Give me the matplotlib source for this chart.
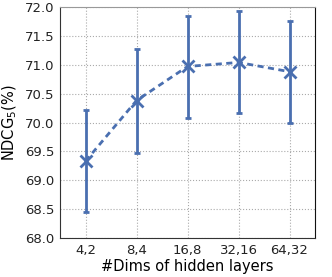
import matplotlib
matplotlib.use('Agg')
from matplotlib import pyplot as plt
import numpy as np

dims = ['4,2', '8,4', '16,8', '32,16', '64,32']
ndcg = [69.33, 70.38, 70.97, 71.04, 70.88]
err_low = [68.45, 69.48, 70.08, 70.16, 69.99]
err_high = [70.22, 71.27, 71.85, 71.93, 71.76]

colour = '#4a6fb0'


def main():
    fig = plt.figure(figsize=(3.32, 2.77), dpi=100)
    ax = fig.add_axes([60 / 332, 1 - 238 / 277, 255 / 332, 231 / 277])
    x = np.arange(len(dims))
    vals = np.array(ndcg)
    yerr = [vals - np.array(err_low), np.array(err_high) - vals]

    line, caps, bars = ax.errorbar(x, vals, yerr=yerr, color=colour, linestyle='--',
                                   linewidth=2, marker='x', markersize=9,
                                   markeredgewidth=2, elinewidth=2, capsize=2.5,
                                   capthick=2, zorder=3)
    line.set_dashes((2.2, 1.6))

    ax.set_xlim(-0.5, len(dims) - 0.5)
    ax.set_ylim(68.0, 72.0)
    ax.set_xticks(x)
    ax.set_xticklabels(dims)
    ax.set_yticks(np.arange(68.0, 72.01, 0.5))
    ax.set_yticklabels([f'{v:.1f}' for v in np.arange(68.0, 72.01, 0.5)])
    ax.tick_params(length=0, labelsize=9.5, pad=4, colors='#222222')
    ax.grid(True, linestyle=':', color='#aaaaaa', linewidth=0.8)
    for side in ['left', 'bottom']:
        ax.spines[side].set_color('#333333')
    ax.spines['top'].set_color('#999999')
    ax.spines['right'].set_color('#111111')

    ax.set_xlabel('#Dims of hidden layers', fontsize=10.5, labelpad=2)
    ax.set_ylabel('NDCG$_5$(%)', fontsize=10.5, labelpad=4)

    fig.savefig('out.png', dpi=100)
    plt.close(fig)


if __name__ == '__main__':
    main()
